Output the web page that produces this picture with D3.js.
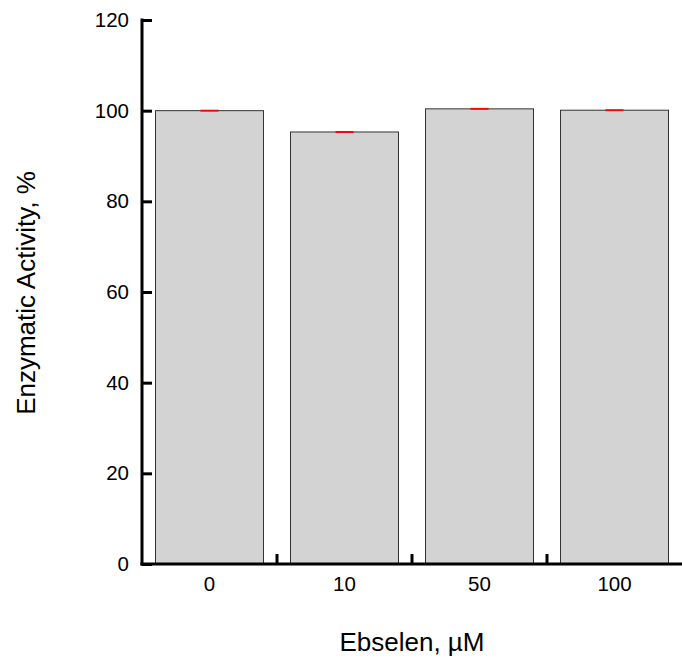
<!DOCTYPE html>
<html><head><meta charset="utf-8">
<script src="https://cdn.jsdelivr.net/npm/d3@7"></script>
<style>body{margin:0;background:#fff}svg text{font-family:"Liberation Sans",Arial,sans-serif;fill:#000}</style>
</head><body>
<svg id="chart" width="682" height="662"></svg>
<script>
const categories = ["0", "10", "50", "100"];
const values = [100.0, 95.3, 100.4, 100.1];
const errors = [0.1, 0.1, 0.1, 0.1];
const yTicks = [0, 20, 40, 60, 80, 100, 120];
const xTitle = "Ebselen, µM";
const yTitle = "Enzymatic Activity, %";

(function () {
const svg = d3.select("#chart");
const mLeft = 142, mRight = 682, mTop = 20, mBottom = 564;

const x = d3.scaleBand().domain(categories).range([mLeft, mRight]).paddingInner(0.2).paddingOuter(0.1);
const y = d3.scaleLinear().domain([0, 120]).range([mBottom, mTop]);

// bars
svg.append("g").selectAll("rect").data(values).join("rect")
  .attr("x", (d, i) => x(categories[i]))
  .attr("y", d => y(d))
  .attr("width", x.bandwidth())
  .attr("height", d => y(0) - y(d))
  .attr("fill", "#d3d3d3")
  .attr("stroke", "#333")
  .attr("stroke-width", 1);

// error caps (red)
const eg = svg.append("g");
values.forEach((v, i) => {
  const cx = x(categories[i]) + x.bandwidth() / 2;
  [v + errors[i], v - errors[i]].forEach(val => {
    eg.append("line")
      .attr("x1", cx - 9).attr("x2", cx + 9)
      .attr("y1", y(val)).attr("y2", y(val))
      .attr("stroke", "#ff0000").attr("stroke-width", 1);
  });
});

// y axis
const yAxis = d3.axisLeft(y).tickValues(yTicks).tickSize(-10).tickPadding(13);
const yg = svg.append("g").attr("transform", `translate(${mLeft},0)`).call(yAxis);
yg.select(".domain").remove();
yg.append("line").attr("x1", 0).attr("x2", 0).attr("y1", mTop - 1.5).attr("y2", mBottom + 1.5)
  .attr("stroke", "#000").attr("stroke-width", 3);
yg.selectAll(".tick line").attr("stroke", "#000").attr("stroke-width", 3);
yg.selectAll(".tick text").attr("font-size", 20.5).style("font-family", "Liberation Sans, Arial, sans-serif");

// x axis
const xAxis = d3.axisBottom(x).tickSize(0).tickPadding(12);
const xg = svg.append("g").attr("transform", `translate(0,${mBottom})`).call(xAxis);
xg.select(".domain").remove();
xg.append("line").attr("x1", mLeft - 1.5).attr("x2", mRight).attr("y1", 0).attr("y2", 0)
  .attr("stroke", "#000").attr("stroke-width", 3);
xg.selectAll(".tick text").attr("font-size", 20.5).style("font-family", "Liberation Sans, Arial, sans-serif");
const step = x.step();
categories.slice(1).forEach(c => {
  const bx = x(c) - (step - x.bandwidth()) / 2;
  xg.append("line").attr("x1", bx).attr("x2", bx).attr("y1", 0).attr("y2", -10)
    .attr("stroke", "#000").attr("stroke-width", 3);
});

// titles
svg.append("text").attr("x", 412).attr("y", 651).attr("text-anchor", "middle")
  .attr("font-size", 26).text(xTitle);
svg.append("text").attr("transform", "translate(35,293) rotate(-90)").attr("text-anchor", "middle")
  .attr("font-size", 26).text(yTitle);
})();
</script>
</body></html>
